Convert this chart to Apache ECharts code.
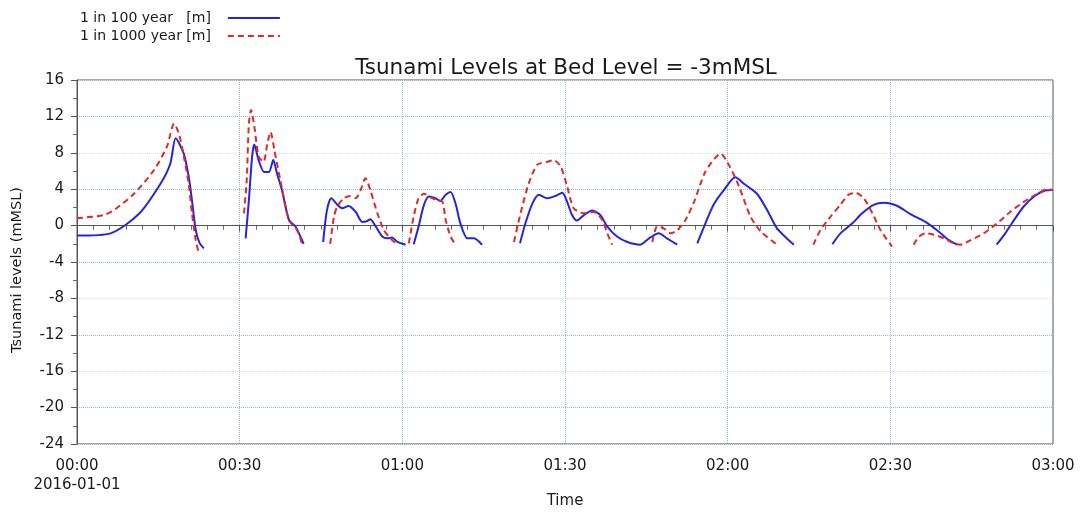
<!DOCTYPE html>
<html>
<head>
<meta charset="utf-8">
<script src="https://cdn.jsdelivr.net/npm/echarts@6/dist/echarts.min.js"></script>
<style>
  html, body { margin: 0; padding: 0; background: #fff; }
  #chart { width: 1081px; height: 513px; }
</style>
</head>
<body>
<div id="chart"></div>
<script>
// Time in minutes after 2016-01-01 00:00; null breaks the line between wave packets.
const t100 = [0, 6.2, 11.4, 15.4, 17.2, 18.2, 19.7, 20.6, 21.2, 21.9, 22.6, 23.4, null,
  31.1, 31.7, 32.3, 32.7, 33.5, 34.5, 35.4, 36.2, 36.9, 37.8, 39.1, 40.3, 41.2, 41.8, null,
  45.4, 46.1, 46.9, 48.0, 48.9, 50.1, 51.4, 52.6, 53.5, 54.1, 55.1, 56.3, 57.2, 58.1, 59.1, 60.6, null,
  62.1, 63.0, 64.0, 64.9, 66.1, 67.0, 68.0, 68.9, 69.8, 70.7, 72.0, 73.2, 74.7, null,
  81.7, 82.7, 84.0, 85.2, 86.7, 88.2, 89.5, 90.4, 91.3, 92.2, 93.5, 95.0, 96.5, 97.8, 99.6, 101.5, 103.9, 105.5, 107.3, 108.8, 110.7, null,
  114.4, 115.9, 117.4, 119.3, 121.4, 123.0, 125.4, 127.3, 129.1, 132.2, null,
  139.3, 140.8, 143.0, 144.8, 147.0, 148.8, 151.3, 153.7, 156.5, 158.9, 160.8, 162.3, null,
  169.6, 171.2, 172.8, 174.6, 176.5, 178.3, 180];
const h100 = [-1.1, -0.85, 1.27, 4.6, 6.8, 9.6, 7.9, 5.4, 2.8, -0.5, -1.9, -2.5, null,
  -1.4, 2.8, 7.6, 8.9, 7.2, 5.9, 5.9, 7.2, 5.7, 3.9, 0.6, -0.1, -1.2, -2.0, null,
  -1.8, 1.7, 3.0, 2.3, 1.9, 2.15, 1.5, 0.4, 0.5, 0.7, -0.1, -1.2, -1.4, -1.3, -1.8, -2.1, null,
  -2.05, -0.1, 2.3, 3.2, 3.0, 2.7, 3.4, 3.7, 2.45, 0.25, -1.4, -1.4, -2.1, null,
  -1.95, 0.25, 2.45, 3.4, 3.0, 3.25, 3.6, 2.6, 1.16, 0.55, 1.16, 1.65, 1.16, -0.1, -1.2, -1.8, -2.1, -1.4, -0.85, -1.4, -2.1, null,
  -1.95, 0.25, 2.3, 3.9, 5.3, 4.6, 3.5, 1.7, -0.3, -2.1, null,
  -2.05, -0.85, 0.25, 1.35, 2.3, 2.5, 2.15, 1.27, 0.4, -0.65, -1.6, -2.1, null,
  -2.1, -0.85, 0.6, 2.1, 3.2, 3.8, 3.9];

const t1000 = [0, 4.9, 6.8, 10.5, 14.2, 16.6, 17.9, 18.8, 19.7, 20.6, 21.2, 21.9, 22.5, null,
  30.8, 31.3, 31.7, 32.1, 32.7, 33.5, 34.4, 35.1, 35.7, 36.4, 37.5, 39.1, 40.6, 41.5, null,
  46.7, 47.4, 48.0, 49.2, 50.4, 51.4, 52.3, 53.2, 54.1, 55.4, 56.6, 57.8, 59.1, null,
  61.2, 62.1, 63.0, 64.0, 65.2, 66.4, 67.4, 68.0, 68.9, 69.8, null,
  80.6, 81.8, 83.3, 84.9, 86.7, 87.9, 89.2, 90.4, 91.6, 93.5, 95.3, 96.9, 97.8, 98.7, null,
  106.1, 107.0, 108.2, 109.5, 110.7, 112.2, 113.8, 115.7, 117.1, 118.7, 120.2, 122.1, 124.2, 126.1, 129.1, null,
  135.8, 137.1, 139.0, 140.8, 142.3, 143.6, 145.1, 146.7, 148.2, 150.3, null,
  154.3, 155.3, 156.5, 158.0, 159.9, 161.7, 162.9, 164.8, 167.2, 169.7, 172.1, 174.6, 177.1, 178.9, 180];
const h1000 = [0.8, 1.16, 1.7, 3.5, 6.1, 8.7, 11.2, 10.1, 7.6, 4.6, 1.35, -1.6, -3.1, null,
  1.35, 5.0, 11.2, 12.7, 10.9, 7.6, 7.0, 9.0, 10.3, 8.3, 5.0, 0.6, -0.5, -2.0, null,
  -2.0, 1.0, 2.1, 3.0, 3.25, 3.0, 3.9, 5.2, 3.9, 1.35, -0.5, -1.4, -2.1, null,
  -1.95, 1.0, 3.0, 3.5, 3.1, 2.8, 2.6, 0.6, -1.2, -2.1, null,
  -1.8, 1.35, 4.6, 6.7, 7.0, 7.2, 6.5, 4.3, 1.9, 1.35, 1.5, 0.6, -0.85, -2.1, null,
  -1.8, -0.1, -0.3, -0.85, -0.5, 0.6, 2.6, 5.7, 7.0, 7.9, 6.7, 4.3, 1.0, -0.65, -2.1, null,
  -2.1, -0.5, 1.0, 2.3, 3.4, 3.6, 3.0, 1.35, -0.5, -2.3, null,
  -2.1, -1.2, -0.85, -1.0, -1.4, -1.95, -2.1, -1.6, -0.85, 0.25, 1.5, 2.6, 3.5, 4.0, 3.9];

const seriesNames = ['1 in 100 year   [m]', '1 in 1000 year [m]'];
const chartTitle = 'Tsunami Levels at Bed Level = -3mMSL';
const xName = 'Time';
const yName = 'Tsunami levels (mMSL)';
const startDate = '2016-01-01';

function pairs(t, h) {
  return t.map((v, i) => (v === null ? [null, null] : [v, h[i]]));
}
function hhmm(m) {
  const hh = Math.floor(m / 60), mm = Math.round(m % 60);
  return String(hh).padStart(2, '0') + ':' + String(mm).padStart(2, '0');
}

const FONT = '"DejaVu Sans", "Liberation Sans", Arial, sans-serif';
const INK = '#1a1a1a';
const chart = echarts.init(document.getElementById('chart'), null, { renderer: 'canvas' });

chart.setOption({
  animation: false,
  backgroundColor: '#fff',
  textStyle: { fontFamily: FONT },
  title: {
    text: chartTitle,
    left: 561, top: 52, textAlign: 'center',
    textStyle: { fontSize: 21.5, fontWeight: 'normal', color: INK, fontFamily: FONT }
  },
  legend: {
    orient: 'vertical', left: 80, top: 11, padding: 0,
    align: 'right', itemWidth: 52, itemHeight: 10, itemGap: 4,
    itemStyle: { opacity: 0 },
    textStyle: { fontSize: 14, color: INK, fontFamily: FONT, padding: [0, 12, 0, 0] },
    data: seriesNames
  },
  grid: {
    left: 77, right: 28, top: 80, bottom: 69,
    outerBoundsMode: 'none',
    show: true, borderColor: '#555', borderWidth: 1, backgroundColor: '#fff'
  },
  xAxis: {
    type: 'value', min: 0, max: 180, interval: 30,
    name: xName, nameLocation: 'middle', nameGap: 50, nameMoveOverlap: false,
    nameTextStyle: { fontSize: 15, color: INK, fontFamily: FONT },
    axisLine: { show: true, lineStyle: { color: '#555' } },
    axisTick: { show: true, inside: false, length: 6, lineStyle: { color: '#555' } },
    minorTick: { show: true, splitNumber: 10, length: 4, lineStyle: { color: '#666' } },
    axisLabel: {
      fontSize: 15, color: INK, margin: 13, lineHeight: 19, fontFamily: FONT,
      formatter: v => (v === 0 ? hhmm(v) + '\n' + startDate : hhmm(v))
    },
    splitLine: { show: true, lineStyle: { color: '#8fb8e6', type: 'dotted', width: 1 } }
  },
  yAxis: {
    type: 'value', min: -24, max: 16, interval: 4,
    name: yName, nameLocation: 'middle', nameGap: 52, nameRotate: 90,
    nameTextStyle: { fontSize: 14.5, color: INK, fontFamily: FONT, padding: [0, 16, 0, 0] },
    axisLine: { show: true, lineStyle: { color: '#555' } },
    axisTick: { show: true, inside: false, length: 6, lineStyle: { color: '#555' } },
    minorTick: { show: true, splitNumber: 2, length: 4, lineStyle: { color: '#666' } },
    axisLabel: { fontSize: 15, color: INK, margin: 13, fontFamily: FONT },
    splitLine: { show: true, lineStyle: { color: ['#d3deeb', '#8fb8e6'], type: 'dotted', width: 1 } }
  },
  series: [
    {
      name: seriesNames[0], type: 'line', data: pairs(t100, h100),
      symbol: 'none', smooth: 0.25, connectNulls: false,
      lineStyle: { color: '#2424e0', width: 2 },
      itemStyle: { color: '#2424e0' }
    },
    {
      name: seriesNames[1], type: 'line', data: pairs(t1000, h1000),
      symbol: 'none', smooth: 0.25, connectNulls: false, z: 3,
      lineStyle: { color: '#e02828', width: 2, type: [6, 4] },
      itemStyle: { color: '#e02828' }
    }
  ]
});
</script>
</body>
</html>
